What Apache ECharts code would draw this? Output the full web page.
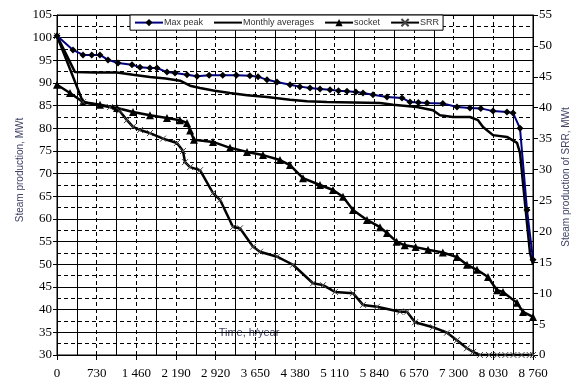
<!DOCTYPE html>
<html>
<head>
<meta charset="utf-8">
<script src="https://cdn.jsdelivr.net/npm/echarts@6/dist/echarts.min.js"></script>
<style>html,body{margin:0;padding:0;background:#fff;}#c{width:576px;height:383px;}</style>
</head>
<body>
<div id="c"></div>
<script>
// ---- data (hours of year, values) ----
const maxPeakHours = [0,294,478,640,790,939,1123,1380,1527,1711,1840,2024,2172,2392,2576,2800,3050,3300,3550,3700,3865,4049,4288,4470,4656,4840,5024,5180,5337,5500,5631,5815,6073,6349,6496,6650,6809,7100,7361,7600,7800,8024,8281,8392,8521,8650,8760];
const maxPeakValues = [100.4,97.3,96.2,96.2,96.2,95.1,94.4,94.0,93.5,93.3,93.3,92.4,92.2,91.8,91.5,91.7,91.7,91.7,91.6,91.4,90.7,90.2,89.6,89.2,88.9,88.7,88.5,88.3,88.2,88.0,87.8,87.4,86.9,86.7,85.8,85.7,85.6,85.5,84.7,84.5,84.4,83.8,83.6,83.4,80.0,62.0,51.0];

const monthlyHours = [0,331,700,1104,1400,1711,2000,2264,2448,2632,2900,3184,3500,3865,4288,4600,4969,5944,6184,6625,6919,7048,7288,7600,7748,7840,8024,8281,8466,8521,8631,8705,8760];
const monthlyValues = [100.4,92.4,92.3,92.3,91.8,91.3,91.0,90.5,89.4,88.9,88.3,87.8,87.3,86.9,86.3,86.0,85.8,85.6,85.2,84.7,84.0,82.9,82.5,82.5,81.8,80.3,78.5,78.1,76.8,74.6,61.3,52.5,50.0];

const socketHours = [0,239,478,791,1104,1399,1711,2024,2264,2392,2450,2520,2871,3184,3497,3791,4104,4288,4527,4840,5079,5263,5447,5705,5944,6073,6250,6400,6600,6828,7100,7361,7545,7729,7932,8097,8208,8466,8576,8760];
const socketValues = [89.6,87.8,85.8,85.2,84.5,83.6,82.9,82.3,81.8,81.2,79.5,77.5,77.0,75.7,74.8,74.1,73.0,71.9,69.0,67.5,66.4,64.9,62.0,59.8,58.2,56.9,55.0,54.2,53.8,53.2,52.6,51.6,49.9,48.8,47.2,44.3,43.9,41.5,39.5,38.4];

const srrHours = [0,478,975,1150,1288,1399,1527,1711,1951,2208,2319,2356,2448,2632,2871,3000,3239,3368,3607,3736,4049,4343,4711,4895,5116,5447,5631,5889,6312,6441,6588,6919,7177,7361,7545,7656,7784,7950,8100,8250,8400,8550,8700,8760];
const srrValues = [51.6,40.9,40.1,39.5,38.0,36.9,36.4,35.9,35.0,34.3,33.0,31.2,30.4,29.9,26.2,25.1,20.7,20.5,17.5,16.7,15.9,14.6,11.6,11.3,10.2,10.0,8.1,7.8,7.0,7.0,5.3,4.5,3.6,2.4,1.1,0.5,0,0,0,0,0,0,0,0];

const seriesNames = ['Max peak','Monthly averages','socket','SRR'];
const xTitle = 'Time, h/year';
const yLeftTitle = 'Steam production, MWt';
const yRightTitle = 'Steam production of SRR, MWt';

function pairs(h, v){ return h.map((x,i)=>[x, v[i]]); }
function fmtHours(v){
  if (v >= 1000) return Math.floor(v/1000) + ' ' + String(v % 1000).padStart(3,'0');
  return String(v);
}

const chart = echarts.init(document.getElementById('c'), null, {renderer:'canvas'});
const tickFont = {fontFamily:'Liberation Serif', fontSize:13, color:'#000'};
const titleColor = '#3e4166';

chart.setOption({
  animation:false,
  backgroundColor:'#fff',
  grid:{left:57, right:43, top:15, bottom:28, show:true, borderColor:'#000', borderWidth:1, containLabel:false},
  legend:{
    left:130, top:15, orient:'horizontal',
    data:[
      {name:seriesNames[0]},
      {name:seriesNames[1], itemStyle:{opacity:0}},
      {name:seriesNames[2]},
      {name:seriesNames[3]}
    ],
    backgroundColor:'#fff', borderColor:'#000', borderWidth:1, borderRadius:0,
    padding:[3,4,3,4], itemGap:10, itemWidth:28, itemHeight:9,
    textStyle:{fontFamily:'Liberation Sans', fontSize:9, color:'#333', padding:[0,0,0,-4]}
  },
  xAxis:{type:'value', min:0, max:8760, interval:730, position:'bottom',
     axisLine:{show:true, lineStyle:{color:'#000'}},
     axisTick:{show:true, length:5, lineStyle:{color:'#000'}},
     axisLabel:{...tickFont, margin:12, formatter:fmtHours},
     splitLine:{show:true, lineStyle:{color:'#000', type:[4,3], width:1}},
     minorTick:{show:false, splitNumber:2},
     minorSplitLine:{show:true, lineStyle:{color:'#000', type:'solid', width:1}}},
  yAxis:[
    {type:'value', min:30, max:105, interval:5, position:'left',
     axisLine:{show:true, lineStyle:{color:'#000'}},
     axisTick:{show:true, length:4, lineStyle:{color:'#000'}},
     axisLabel:{...tickFont, margin:5},
     splitLine:{show:true, lineStyle:{color:'#000', width:1}},
     minorTick:{show:false, splitNumber:2},
     minorSplitLine:{show:true, lineStyle:{color:'#000', type:[4,3], width:1}}},
    {type:'value', min:0, max:55, interval:5, position:'right',
     axisLine:{show:true, lineStyle:{color:'#000'}},
     axisTick:{show:true, length:5, lineStyle:{color:'#000'}},
     axisLabel:{...tickFont, margin:6},
     splitLine:{show:false}}
  ],
  graphic:[
    {type:'text', x:249, y:333, style:{text:xTitle, fontFamily:'Liberation Sans', fontSize:11, fill:titleColor, textAlign:'center', textVerticalAlign:'middle'}},
    {type:'text', x:20, y:170, rotation:Math.PI/2, style:{text:yLeftTitle, fontFamily:'Liberation Sans', fontSize:10, fill:titleColor, textAlign:'center', textVerticalAlign:'middle'}},
    {type:'text', x:566, y:177, rotation:Math.PI/2, style:{text:yRightTitle, fontFamily:'Liberation Sans', fontSize:10, fill:titleColor, textAlign:'center', textVerticalAlign:'middle'}}
  ],
  series:[
    {name:seriesNames[1], type:'line', xAxisIndex:0, yAxisIndex:0, data:pairs(monthlyHours, monthlyValues),
     showSymbol:false, symbol:'none', lineStyle:{color:'#000', width:2.5}, itemStyle:{color:'#000'}, z:3},
    {name:seriesNames[2], type:'line', xAxisIndex:0, yAxisIndex:0, data:pairs(socketHours, socketValues),
     symbol:'triangle', symbolSize:8, lineStyle:{color:'#000', width:2.5}, itemStyle:{color:'#000'}, z:4},
    {name:seriesNames[3], type:'line', xAxisIndex:0, yAxisIndex:1, data:pairs(srrHours, srrValues),
     symbol:'path://M0,0L10,10M10,0L0,10', symbolSize:6, lineStyle:{color:'#000', width:2.5},
     itemStyle:{color:'#000', borderColor:'#444', borderWidth:1}, z:5},
    {name:seriesNames[0], type:'line', xAxisIndex:0, yAxisIndex:0, data:pairs(maxPeakHours, maxPeakValues),
     symbol:'diamond', symbolSize:7, lineStyle:{color:'#000080', width:2}, itemStyle:{color:'#000'}, z:6}
  ]
});
</script>
</body>
</html>
